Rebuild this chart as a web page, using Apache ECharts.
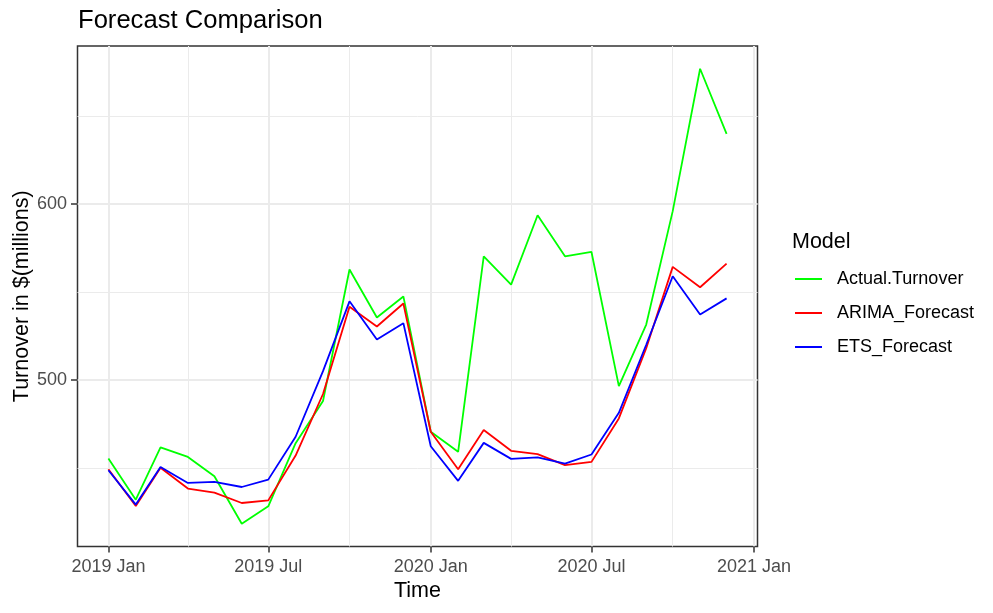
<!DOCTYPE html>
<html>
<head>
<meta charset="utf-8">
<script src="https://cdn.jsdelivr.net/npm/echarts@6/dist/echarts.min.js"></script>
<style>
  html, body { margin: 0; padding: 0; background: #fff; }
  #main { width: 993px; height: 613px; }
</style>
</head>
<body>
<div id="main"></div>
<script>
// monthly points, 2019 Jan .. 2020 Dec
const months = ['2019-01', '2019-02', '2019-03', '2019-04', '2019-05', '2019-06',
  '2019-07', '2019-08', '2019-09', '2019-10', '2019-11', '2019-12',
  '2020-01', '2020-02', '2020-03', '2020-04', '2020-05', '2020-06',
  '2020-07', '2020-08', '2020-09', '2020-10', '2020-11', '2020-12'];

const actualTurnover = [455.3, 431.9, 461.6, 456.2, 445.2, 418.2, 428.1, 464.0, 488.0, 562.8, 535.5, 547.5,
  470.5, 459.1, 570.3, 554.2, 593.7, 570.3, 572.8, 496.5, 531.5, 596.0, 677.0, 640.0];
const arimaForecast = [449.2, 428.3, 450.0, 438.2, 435.9, 430.0, 431.5, 457.0, 492.0, 541.6, 530.4, 543.5,
  470.5, 449.2, 471.5, 459.7, 457.8, 451.5, 453.4, 478.1, 518.0, 564.3, 552.7, 566.2];
const etsForecast = [448.6, 429.1, 450.5, 441.4, 442.0, 439.1, 443.3, 467.7, 505.0, 544.7, 523.0, 532.3,
  462.3, 442.6, 464.2, 455.1, 455.9, 452.4, 457.6, 481.3, 520.0, 559.0, 537.2, 546.4];

const seriesNames = ['Actual.Turnover', 'ARIMA_Forecast', 'ETS_Forecast'];
const seriesColors = ['#00FF00', '#FF0000', '#0000FF'];

const xMajorTicks = ['2019-01', '2019-07', '2020-01', '2020-07', '2021-01'];
const xMinorTicks = ['2019-04', '2019-10', '2020-04', '2020-10'];
const yMajorTicks = [500, 600];
const yMinorTicks = [450, 550, 650];

const monthAbbr = ['Jan', 'Feb', 'Mar', 'Apr', 'May', 'Jun', 'Jul', 'Aug', 'Sep', 'Oct', 'Nov', 'Dec'];

const toTime = (ym) => {
  const [y, m] = ym.split('-').map(Number);
  return Date.UTC(y, m - 1, 1);
};

const fmtMonth = (t) => {
  const d = new Date(t);
  return d.getUTCFullYear() + ' ' + monthAbbr[d.getUTCMonth()];
};

// ggplot style 5% expansion of the data range
const expand = (lo, hi) => [lo - (hi - lo) * 0.05, hi + (hi - lo) * 0.05];

const times = months.map(toTime);
const xRange = expand(times[0], times[times.length - 1]);
const allValues = actualTurnover.concat(arimaForecast, etsForecast);
const yRange = expand(Math.min(...allValues), Math.max(...allValues));

const seriesData = [actualTurnover, arimaForecast, etsForecast];

var myChart = echarts.init(document.getElementById('main'));

const gridColor = '#EBEBEB';
const darkColor = '#333333';
const tickLabel = { fontFamily: 'Liberation Sans', fontSize: 18, color: '#4D4D4D' };

const option = {
  animation: false,
  backgroundColor: '#fff',
  title: [
    {
      text: 'Forecast Comparison',
      left: 73,
      top: 3,
      textStyle: { fontFamily: 'Liberation Sans', fontSize: 25.6, fontWeight: 'normal', color: '#000' }
    },
    {
      text: 'Model',
      left: 787,
      top: 226,
      textStyle: { fontFamily: 'Liberation Sans', fontSize: 21.5, fontWeight: 'normal', color: '#000' }
    }
  ],
  legend: {
    orient: 'vertical',
    left: 795,
    top: 269,
    padding: 0,
    icon: 'rect',
    itemWidth: 27,
    itemHeight: 2,
    itemGap: 14,
    data: seriesNames,
    textStyle: { fontFamily: 'Liberation Sans', fontSize: 18, color: '#000', lineHeight: 20, padding: [0, 0, 0, 10] }
  },
  grid: {
    left: 77.5,
    right: 235.5,
    top: 46,
    bottom: 66.5,
    outerBoundsMode: 'none',
    containLabel: false,
    show: true,
    borderColor: darkColor,
    borderWidth: 1.5,
    backgroundColor: '#fff'
  },
  xAxis: [
    {
      type: 'value',
      min: xRange[0],
      max: xRange[1],
      name: 'Time',
      nameLocation: 'middle',
      nameGap: 34,
      nameMoveOverlap: false,
      nameTextStyle: { fontFamily: 'Liberation Sans', fontSize: 21.5, color: '#000' },
      axisLine: { show: false },
      axisTick: { show: true, length: 6, customValues: xMajorTicks.map(toTime), lineStyle: { color: darkColor, width: 1.5 } },
      axisLabel: Object.assign({ customValues: xMajorTicks.map(toTime), margin: 12, formatter: fmtMonth }, tickLabel),
      splitLine: { show: true, lineStyle: { color: gridColor, width: 2 } },
      z: 1
    },
    {
      type: 'value',
      min: xRange[0],
      max: xRange[1],
      position: 'bottom',
      axisLine: { show: false },
      axisTick: { show: false, customValues: xMinorTicks.map(toTime) },
      axisLabel: { show: false, customValues: xMinorTicks.map(toTime) },
      splitLine: { show: true, lineStyle: { color: gridColor, width: 1 } },
      z: 0
    }
  ],
  yAxis: [
    {
      type: 'value',
      min: yRange[0],
      max: yRange[1],
      name: 'Turnover in $(millions)',
      nameLocation: 'middle',
      nameGap: 44,
      nameMoveOverlap: false,
      nameTextStyle: { fontFamily: 'Liberation Sans', fontSize: 21.5, color: '#000' },
      axisLine: { show: false },
      axisTick: { show: true, length: 6.5, customValues: yMajorTicks, lineStyle: { color: darkColor, width: 1.5 } },
      axisLabel: Object.assign({ customValues: yMajorTicks, margin: 10.5 }, tickLabel),
      splitLine: { show: true, lineStyle: { color: gridColor, width: 2 } },
      z: 1
    },
    {
      type: 'value',
      min: yRange[0],
      max: yRange[1],
      position: 'left',
      axisLine: { show: false },
      axisTick: { show: false, customValues: yMinorTicks },
      axisLabel: { show: false, customValues: yMinorTicks },
      splitLine: { show: true, lineStyle: { color: gridColor, width: 1 } },
      z: 0
    }
  ],
  series: seriesNames.map((name, i) => ({
    name,
    type: 'line',
    xAxisIndex: 0,
    yAxisIndex: 0,
    showSymbol: false,
    symbol: 'none',
    data: times.map((t, j) => [t, seriesData[i][j]]),
    lineStyle: { color: seriesColors[i], width: 1.8 },
    itemStyle: { color: seriesColors[i] },
    z: 3 + i
  }))
};

myChart.setOption(option);
</script>
</body>
</html>
